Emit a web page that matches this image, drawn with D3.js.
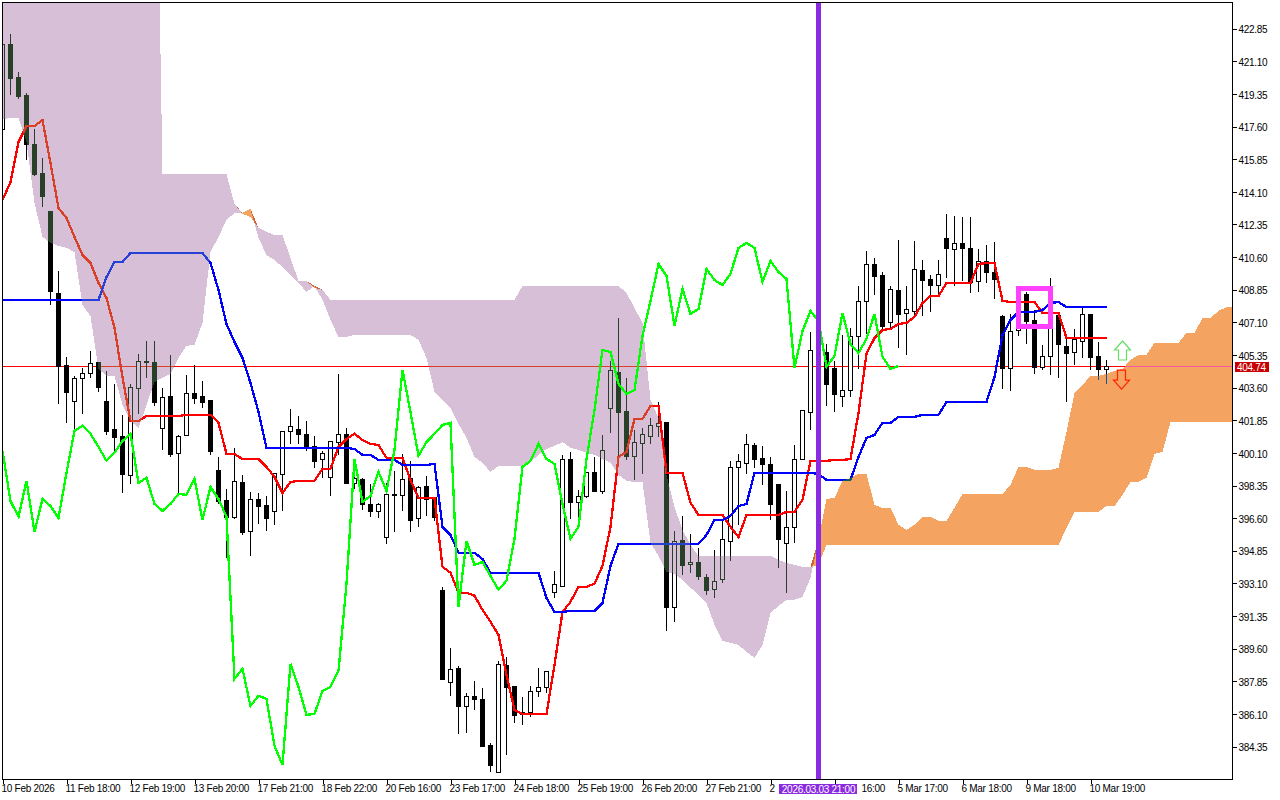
<!DOCTYPE html>
<html>
<head>
<meta charset="utf-8">
<script src="https://cdn.jsdelivr.net/npm/d3@7"></script>
<style>
html,body{margin:0;padding:0;background:#fff;overflow:hidden}
svg{display:block}
text{font-family:"Liberation Sans",Arial,sans-serif;font-size:10px;letter-spacing:-.28px;fill:#000}
.crisp{shape-rendering:crispEdges}
</style>
</head>
<body>
<svg id="c" width="1280" height="800"></svg>
<script>
const opens=[417.47,422.03,420.26,419.29,416.66,415.11,413.07,408.68,404.81,402.89,
404.12,404.39,404.98,402.89,401.39,401.01,398.92,403.58,405.03,404.98,
401.44,403.16,400.10,401.06,403.31,403.16,402.94,399.19,397.58,396.67,
398.54,395.91,397.63,397.31,396.99,398.97,401.28,401.39,401.12,400.47,
399.77,398.81,400.68,401.12,398.49,398.70,397.36,396.99,395.59,397.90,
397.85,398.76,396.61,398.33,397.74,392.76,387.82,388.57,386.53,387.07,
386.91,384.44,383.00,388.73,387.61,386.21,386.21,387.34,387.55,392.65,
392.96,399.77,397.47,397.79,399.08,398.06,402.51,404.44,402.35,399.94,
400.63,401.01,401.55,401.76,391.84,395.43,394.14,394.25,393.45,392.81,
393.34,395.38,399.35,399.56,400.52,399.83,399.51,398.44,395.27,396.13,
399.77,402.29,405.62,405.51,404.65,403.16,403.47,406.37,408.25,410.23,
409.64,407.12,408.84,407.60,407.71,409.91,409.43,409.10,411.63,411.04,
411.36,411.09,409.32,410.39,409.80,407.44,404.65,406.69,408.62,407.23,
404.71,405.30,407.50,405.84,405.51,406.10,407.55,405.30,404.60];
const highs=[422.24,422.62,420.58,419.45,417.52,415.97,413.07,409.91,405.30,404.28,
404.71,405.62,404.98,404.55,403.85,402.19,403.85,405.46,406.16,406.16,
403.63,405.41,401.12,404.33,404.87,404.01,402.94,399.94,398.22,400.42,
398.97,398.06,398.01,397.85,399.08,401.28,402.51,402.14,401.87,401.06,
400.26,400.79,404.39,401.49,399.72,398.81,398.49,397.47,398.54,399.19,
400.10,399.72,398.38,398.92,397.79,392.96,389.70,388.73,387.29,387.93,
387.55,384.60,389.00,389.22,387.61,387.07,387.66,388.62,388.41,393.83,
400.04,400.21,398.17,399.08,399.94,401.12,405.08,407.39,404.17,401.39,
401.49,402.03,402.89,401.76,395.97,396.77,395.81,395.06,393.67,394.95,
396.61,399.72,400.10,401.17,400.68,400.52,399.94,398.44,398.12,400.58,
402.46,406.64,405.89,406.00,405.08,406.48,406.85,409.10,410.98,410.60,
409.86,409.10,411.57,409.10,411.52,410.49,409.70,410.49,412.97,412.86,
412.81,412.81,411.09,411.30,411.46,407.55,407.60,409.10,408.79,407.82,
405.94,409.54,407.60,406.48,406.80,407.98,407.55,406.10,405.14];
const lows=[417.36,419.35,419.13,415.86,415.00,413.34,408.08,402.78,401.76,401.33,
402.24,404.17,403.42,401.12,400.21,398.01,398.49,402.24,404.17,402.67,
400.31,399.94,398.01,401.06,402.78,402.56,400.04,397.42,394.52,396.61,
395.75,394.63,396.34,395.97,396.29,397.04,400.63,400.63,400.26,399.35,
398.81,397.85,400.04,398.49,398.22,397.09,396.72,396.67,395.27,395.91,
397.04,395.91,396.18,396.77,396.51,387.98,387.13,385.09,385.15,386.37,
384.39,383.05,383.00,383.96,385.68,385.57,385.99,387.07,387.29,392.38,
392.96,396.61,396.67,397.74,398.06,397.95,401.23,399.94,399.77,398.70,
399.03,400.63,401.01,390.61,391.10,393.61,393.72,393.34,392.54,392.38,
393.18,394.36,396.29,399.03,399.35,398.44,396.56,393.99,392.65,395.32,
399.77,401.39,405.08,402.67,402.35,402.62,403.16,404.65,406.53,408.62,
406.75,406.80,405.78,405.41,407.50,407.50,407.71,408.68,409.54,409.10,
409.37,408.73,408.79,409.27,408.41,403.58,403.47,406.42,406.00,404.39,
404.60,404.33,404.17,402.89,404.87,405.25,404.60,404.06,403.85];
const closes=[422.03,420.20,419.24,416.66,415.05,413.88,408.79,404.76,403.37,404.12,
404.39,404.92,403.63,401.28,400.96,398.97,403.63,405.03,405.00,402.83,
403.10,400.04,401.01,403.31,403.04,402.83,400.21,397.52,396.67,398.60,
395.86,397.63,397.25,396.61,399.03,401.28,401.55,401.12,400.42,399.67,
400.10,400.74,401.12,398.49,398.76,397.36,396.99,397.36,397.90,397.85,
398.70,396.51,398.27,397.63,396.67,387.98,388.52,386.53,387.07,386.91,
384.39,383.37,388.79,387.55,386.05,386.10,387.34,387.55,388.41,393.08,
399.77,397.47,397.79,399.08,398.06,400.26,404.55,402.29,399.94,400.68,
401.12,401.60,401.71,391.84,395.38,394.09,394.25,393.50,392.76,393.24,
395.49,399.35,399.67,400.58,399.77,399.51,397.36,395.49,396.13,399.77,
402.40,405.62,405.51,403.80,403.26,403.47,406.37,408.25,410.23,409.59,
406.91,408.89,407.55,407.82,409.96,409.37,409.10,409.70,411.09,411.36,
411.09,409.27,410.39,409.80,409.43,404.65,406.64,407.71,407.18,404.71,
405.30,407.60,405.94,405.46,406.21,407.55,405.25,404.60,404.76];
const tenkan=[413.66,414.62,416.77,417.63,417.63,417.95,415.64,413.23,412.70,411.68,
410.71,410.28,409.21,408.41,406.80,404.17,401.81,401.81,402.08,402.08,
402.08,402.08,402.08,402.14,402.14,402.14,402.14,401.71,400.04,400.04,
399.77,399.77,399.77,399.35,398.81,397.95,398.54,398.60,398.60,398.60,
399.24,399.24,400.42,400.85,401.12,400.79,400.58,400.52,399.83,399.83,
399.83,398.65,397.68,397.68,397.68,393.99,393.67,392.60,392.60,392.44,
391.68,391.04,390.34,388.20,386.32,386.10,386.10,386.10,386.10,388.73,
391.57,392.11,392.92,392.92,393.08,394.04,396.13,399.88,400.15,401.92,
401.92,402.62,402.62,399.03,399.03,399.03,397.42,396.77,396.77,396.77,
396.77,396.13,395.59,396.77,396.77,396.77,396.77,396.77,396.93,396.93,
397.58,399.67,399.67,399.67,399.72,399.72,399.77,402.24,405.41,406.26,
406.69,406.75,407.01,407.07,407.39,408.14,408.51,408.51,409.21,409.21,
409.21,409.21,410.23,410.28,410.28,408.25,408.19,408.19,408.19,408.19,
407.60,407.60,407.60,406.26,406.26,406.26,406.26,406.26,406.26];
const kijun=[408.30,408.30,408.30,408.30,408.30,408.30,408.30,408.30,408.30,408.30,
408.30,408.30,408.30,409.53,410.34,410.34,410.82,410.82,410.82,410.82,
410.82,410.82,410.82,410.82,410.82,410.82,410.28,408.84,407.01,406.05,
405.19,403.85,402.29,400.37,400.37,400.37,400.37,400.37,400.37,400.37,
400.37,400.37,400.37,400.37,400.31,399.99,399.99,399.72,399.72,399.72,
399.45,399.45,399.45,399.45,399.51,396.13,395.70,394.74,394.74,394.74,
394.41,393.67,393.67,393.67,393.67,393.67,393.67,393.67,392.32,391.57,
391.57,391.62,391.62,391.62,391.62,392.05,394.04,395.22,395.22,395.22,
395.22,395.22,395.22,395.22,395.22,395.22,395.22,395.22,395.70,396.51,
396.51,396.72,397.25,397.36,399.03,399.03,399.03,399.03,399.03,399.03,
399.03,399.03,398.97,398.65,398.65,398.65,398.65,399.88,400.90,401.06,
401.71,401.71,402.03,402.03,402.03,402.14,402.14,402.14,402.83,402.83,
402.83,402.83,402.83,402.83,404.17,406.42,407.23,407.66,407.66,407.66,
407.76,408.14,408.19,407.92,407.92,407.92,407.92,407.92,407.92];
const spanA=[418.00,418.06,418.06,416.77,413.50,411.68,411.36,411.20,411.09,410.87,
408.03,407.44,404.60,404.23,404.23,402.67,401.81,401.44,402.67,403.90,
404.12,404.33,405.19,405.84,405.89,407.07,410.87,411.68,412.59,412.97,
412.97,413.18,411.63,410.71,410.44,410.07,409.64,409.21,408.73,409.05,
408.30,407.23,406.32,406.32,406.42,406.42,406.42,406.42,406.42,406.42,
406.42,406.42,406.16,405.19,403.37,402.94,402.51,401.65,400.90,399.88,
399.56,399.08,399.40,399.40,399.40,399.40,399.61,399.99,400.31,400.47,
400.68,400.37,400.26,400.10,399.99,399.77,399.56,398.92,398.60,398.54,
398.54,395.27,394.57,393.72,393.61,393.29,392.87,392.49,392.05,390.88,
390.02,389.91,389.80,389.43,389.11,389.80,391.52,391.89,392.22,392.22,
392.38,393.40,395.43,397.63,397.68,398.60,398.76,398.97,398.97,397.31,
397.15,397.15,396.24,395.97,396.24,396.67,396.67,396.45,396.45,397.15,
397.90,397.90,397.90,397.90,397.90,397.90,398.38,399.35,399.35,399.19,
399.19,399.19,399.30,401.23,403.31,403.74,404.23,404.23,404.33,404.49,
404.60,405.08,405.35,405.35,406.00,406.00,406.00,406.00,406.53,406.53,
407.34,407.34,407.71,407.92,407.92];
const spanB=[441,441,441,441,441,441,441,441,441,441,
441,441,441,441,441,441,441,441,441,441,
415.05,415.05,415.05,415.05,415.05,415.05,415.05,415.05,415.05,413.45,
412.91,412.75,412.16,411.95,411.79,411.79,410.55,409.32,409.32,408.94,
408.84,408.30,408.30,408.30,408.30,408.30,408.30,408.30,408.30,408.30,
408.30,408.30,408.30,408.30,408.30,408.30,408.30,408.30,408.30,408.30,
408.30,408.30,408.30,408.30,408.30,409.05,409.05,409.05,409.05,409.05,
409.05,409.05,409.05,409.05,409.05,409.05,409.05,409.05,408.68,407.87,
407.07,402.94,401.97,398.92,397.20,395.97,395.16,394.57,394.57,394.57,
394.57,394.57,394.57,394.57,394.57,394.57,394.57,394.36,394.20,394.09,
393.99,393.99,394.09,395.16,395.16,395.16,395.16,395.16,395.16,395.16,
395.16,395.16,395.16,395.16,395.16,395.16,395.16,395.16,395.16,395.16,
395.16,395.16,395.16,395.16,395.16,395.16,395.16,395.16,395.16,395.16,
395.16,395.16,395.16,396.07,396.93,396.93,396.93,396.93,397.25,397.25,
397.84,398.54,398.54,398.76,400.04,400.15,401.76,401.76,401.76,401.76,
401.76,401.76,401.76,401.76,401.76];
const priceTicks=[422.85,421.10,419.35,417.60,415.85,414.10,412.35,410.60,408.85,407.10,405.35,403.60,401.85,400.10,398.35,396.60,394.85,393.10,391.35,389.60,387.85,386.10,384.35];
const timeIndex=[0,8,16,24,32,40,48,56,64,72,80,88,96,104,112,120,128,136];
const timeLabels=["10 Feb 2026","11 Feb 18:00","12 Feb 19:00","13 Feb 20:00","17 Feb 21:00","18 Feb 22:00","20 Feb 16:00","23 Feb 17:00","24 Feb 18:00","25 Feb 19:00","26 Feb 20:00","27 Feb 21:00","2","16:00","5 Mar 17:00","6 Mar 18:00","9 Mar 18:00","10 Mar 19:00"];
const lastPrice=404.74;
const cursorIndex=102;
const cursorLabel="2026.03.03 21:00";
const boxIndex=[127,131];
const boxPrice=[408.92,406.88];
const arrowIndex=140;
const arrowUpPrice=406.10;
const arrowDownPrice=403.52;

const L=2,T=2,R=1232,B=779;
const svg=d3.select("#c");
const x=d3.scaleLinear().domain([0,153.75]).range([2.5,1232.5]);
const y=d3.scaleLinear().domain([424.28,382.61]).range([T,B]);
const py=v=>Math.round(y(v))+.5;

svg.append("defs").append("clipPath").attr("id","plot").append("rect")
 .attr("x",L+1).attr("y",T+1).attr("width",R-L-1).attr("height",B-T-1);
const g=svg.append("g").attr("clip-path","url(#plot)");
g.append("rect").attr("x",L).attr("y",T).attr("width",R-L).attr("height",B-T).attr("fill","#fff");

g.append("line").attr("class","crisp").attr("x1",L).attr("x2",R).attr("y1",py(lastPrice)).attr("y2",py(lastPrice))
 .attr("stroke","#ff0000").attr("stroke-width",1);

const idx=d3.range(opens.length);
const candles=g.append("g").attr("class","crisp");
candles.selectAll("line").data(idx).join("line")
 .attr("x1",i=>x(i)).attr("x2",i=>x(i)).attr("y1",i=>py(highs[i])).attr("y2",i=>py(lows[i])+.5)
 .attr("stroke","#000").attr("stroke-width",1);
candles.selectAll("rect").data(idx).join("rect")
 .attr("x",i=>x(i)-2).attr("width",4)
 .attr("y",i=>Math.min(py(opens[i]),py(closes[i])))
 .attr("height",i=>Math.abs(py(opens[i])-py(closes[i])))
 .attr("fill",i=>closes[i]>=opens[i]?"#fff":"#000")
 .attr("stroke","#000").attr("stroke-width",1);

const lineOf=d3.line().x((d,i)=>x(i)).y(d=>y(d));
g.append("path").attr("class","crisp").attr("d",lineOf(tenkan)).attr("fill","none").attr("stroke","#ff0000").attr("stroke-width",2.3);
g.append("path").attr("class","crisp").attr("d",lineOf(kijun)).attr("fill","none").attr("stroke","#0000ff").attr("stroke-width",2.3);

const spanIdx=d3.range(spanA.length);
const purple=d3.area().x(i=>x(i)).y0(i=>y(spanA[i])).y1(i=>y(Math.max(spanA[i],spanB[i])));
const orange=d3.area().x(i=>x(i)).y0(i=>y(spanB[i])).y1(i=>y(Math.max(spanA[i],spanB[i])));
g.append("path").attr("class","crisp").attr("d",purple(spanIdx)).attr("fill","#274027").style("mix-blend-mode","difference");
g.append("path").attr("class","crisp").attr("d",orange(spanIdx)).attr("fill","#0b5b9f").style("mix-blend-mode","difference");

const chikou=closes.slice(26);
g.append("path").attr("class","crisp").attr("d",lineOf(chikou)).attr("fill","none").attr("stroke","#00ff00").attr("stroke-width",2.3);

g.append("rect").attr("class","crisp")
 .attr("x",x(boxIndex[0])).attr("width",x(boxIndex[1])-x(boxIndex[0]))
 .attr("y",y(boxPrice[0])).attr("height",y(boxPrice[1])-y(boxPrice[0]))
 .attr("fill","none").attr("stroke","#ff40ff").attr("stroke-width",5);

function arrow(tipX,tipY,dir,color,fill){
  const p=[[0,0],[8,9],[4,9],[4,19],[-4,19],[-4,9],[-8,9]].map(d=>[tipX+d[0],tipY+dir*d[1]]);
  g.append("path").attr("d",d3.line()(p)+"Z").attr("fill",fill).attr("stroke",color).attr("stroke-width",1.2);
}
arrow(x(arrowIndex),y(arrowUpPrice),1,"#66dd66","#fff");
arrow(x(arrowIndex)-1,y(arrowDownPrice),-1,"#ff2000","none");

g.append("line").attr("class","crisp").attr("x1",x(cursorIndex)).attr("x2",x(cursorIndex)).attr("y1",T).attr("y2",B)
 .attr("stroke","#8a2be2").attr("stroke-width",5);

svg.append("rect").attr("class","crisp").attr("x",L).attr("y",T).attr("width",R-L).attr("height",B-T)
 .attr("fill","none").attr("stroke","#000").attr("stroke-width",1);

const ay=svg.append("g").attr("transform",`translate(${R+.5},0)`)
 .call(d3.axisRight(y).tickValues(priceTicks).tickFormat(d3.format(".2f")).tickSize(4).tickPadding(2));
const ax=svg.append("g").attr("transform",`translate(0,${B+.5})`)
 .call(d3.axisBottom(x).tickValues(timeIndex).tickFormat((d,i)=>timeLabels[i]).tickSize(4).tickPadding(1));
ax.selectAll("text").attr("text-anchor","start").attr("dx",(d,i)=>timeLabels[i]==="16:00"?26.5:-1.5);
ay.selectAll("text").attr("dy","0.42em");
[ay,ax].forEach(a=>{a.select(".domain").remove();a.selectAll("line").attr("class","crisp").attr("stroke","#000");a.selectAll("text").attr("fill","#000");});

const lastY=py(lastPrice);
svg.append("rect").attr("class","crisp").attr("x",1235).attr("y",lastY-4.5).attr("width",34).attr("height",10).attr("fill","#c80000");
svg.append("text").attr("x",1237).attr("y",lastY+4).text(d3.format(".2f")(lastPrice)).style("fill","#fff");

svg.append("rect").attr("class","crisp").attr("x",779).attr("y",784).attr("width",78).attr("height",10).attr("fill","#8a2be2");
svg.append("text").attr("x",x(cursorIndex)).attr("y",793).attr("text-anchor","middle").text(cursorLabel).style("fill","#fff");
</script>
</body>
</html>
